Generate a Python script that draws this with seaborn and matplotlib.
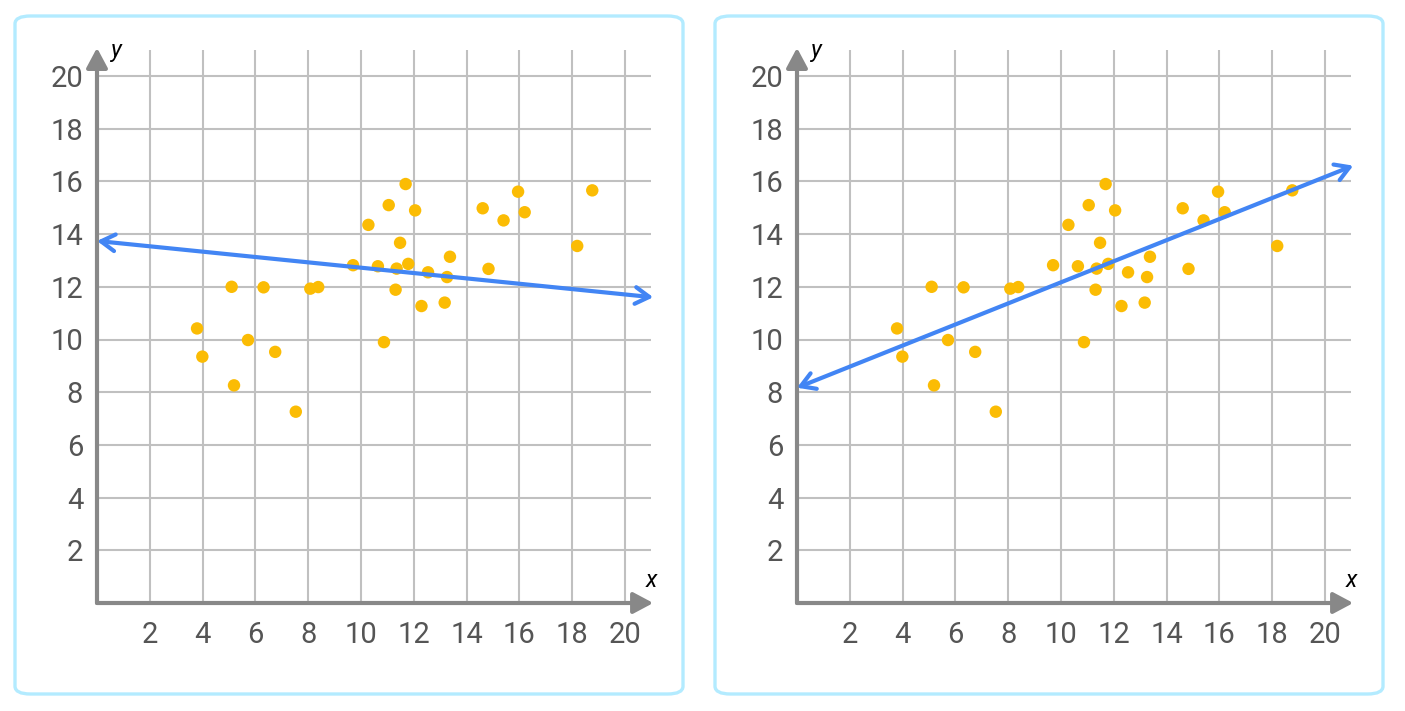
import matplotlib
matplotlib.use("Agg")
import matplotlib.pyplot as plt
from matplotlib.patches import FancyBboxPatch
import pandas as pd
import seaborn as sns

# data (same scatter in both panels)
x_vals = [3.79, 3.99, 5.10, 5.19, 5.72, 6.31, 6.75, 7.53, 8.08, 8.38,
          9.70, 10.28, 10.64, 10.87, 11.05, 11.31, 11.35, 11.48, 11.69, 11.79,
          12.05, 12.29, 12.54, 13.17, 13.26, 13.37, 14.61, 14.83, 15.40, 15.95,
          16.20, 18.19, 18.76]
y_vals = [10.42, 9.35, 12.00, 8.26, 9.98, 11.98, 9.53, 7.26, 11.93, 11.99,
          12.82, 14.35, 12.78, 9.90, 15.10, 11.89, 12.69, 13.67, 15.90, 12.87,
          14.90, 11.27, 12.55, 11.40, 12.37, 13.14, 14.98, 12.68, 14.52, 15.61,
          14.83, 13.55, 15.66]

# fitted lines: (intercept, slope) for left / right panel
line_intercepts = [13.74, 8.17]
line_slopes = [-0.1015, 0.40]
line_x_end = 21.07

ticks = [2, 4, 6, 8, 10, 12, 14, 16, 18, 20]

df = pd.DataFrame({"x": x_vals, "y": y_vals})

sns.set_theme(style="white")
plt.rcParams["font.family"] = ["Roboto", "DejaVu Sans"]

W, H = 1405, 711
fig = plt.figure(figsize=(W / 100, H / 100), dpi=100)

grid_col = "#c0c0c0"
axis_col = "#888888"
label_col = "#555555"
dot_col = "#fbbc04"
line_col = "#4285f4"
border_col = "#b3ebff"

px_per_unit = 26.4
lim = 21.0

for i, off in enumerate([0, 700]):
    # panel border
    fig.patches.append(FancyBboxPatch(
        ((15 + off) / W, 1 - 694 / H), 668 / W, 678 / H,
        boxstyle="round,pad=0,rounding_size=0.011",
        transform=fig.transFigure, fill=False,
        edgecolor=border_col, linewidth=2.4))

    left = (97 + off) / W
    bottom = (H - 603) / H
    ax = fig.add_axes([left, bottom, lim * px_per_unit / W, lim * 26.35 / H])
    ax.set_xlim(0, lim)
    ax.set_ylim(0, lim)
    ax.set_facecolor("none")
    for s in ax.spines.values():
        s.set_visible(False)

    for t in ticks:
        ax.axvline(t, color=grid_col, lw=1.5, zorder=0)
        ax.axhline(t, color=grid_col, lw=1.5, zorder=0)

    ax.set_xticks(ticks)
    ax.set_yticks(ticks)
    ax.tick_params(length=0, labelsize=21, colors=label_col)
    ax.tick_params(axis="x", pad=13)
    ax.tick_params(axis="y", pad=10)

    # axes with arrow heads
    head = "-|>,head_length=0.6,head_width=0.32"
    ax.annotate("", xy=(line_x_end, 0), xytext=(0, 0),
                arrowprops=dict(arrowstyle=head, color=axis_col, lw=3,
                                shrinkA=0, shrinkB=0, mutation_scale=20),
                annotation_clip=False, zorder=3)
    ax.annotate("", xy=(0, line_x_end), xytext=(0, 0),
                arrowprops=dict(arrowstyle=head, color=axis_col, lw=3,
                                shrinkA=0, shrinkB=0, mutation_scale=20),
                annotation_clip=False, zorder=3)
    ax.text(21.0, 0.85, "x", fontsize=17, style="italic", color="black",
            ha="center", va="center")
    ax.text(0.75, 20.95, "y", fontsize=17, style="italic", color="black",
            ha="center", va="center")

    sns.scatterplot(data=df, x="x", y="y", ax=ax, color=dot_col, s=80,
                    edgecolor="none", zorder=4, clip_on=False)

    b0, b1 = line_intercepts[i], line_slopes[i]
    ax.annotate("", xy=(line_x_end, b0 + b1 * line_x_end), xytext=(0, b0),
                arrowprops=dict(arrowstyle="<->,head_length=0.5,head_width=0.3",
                                color=line_col, lw=3, shrinkA=0, shrinkB=0,
                                mutation_scale=20),
                annotation_clip=False, zorder=5)
    ax.set_xlabel("")
    ax.set_ylabel("")

fig.savefig("out.png", dpi=100)
